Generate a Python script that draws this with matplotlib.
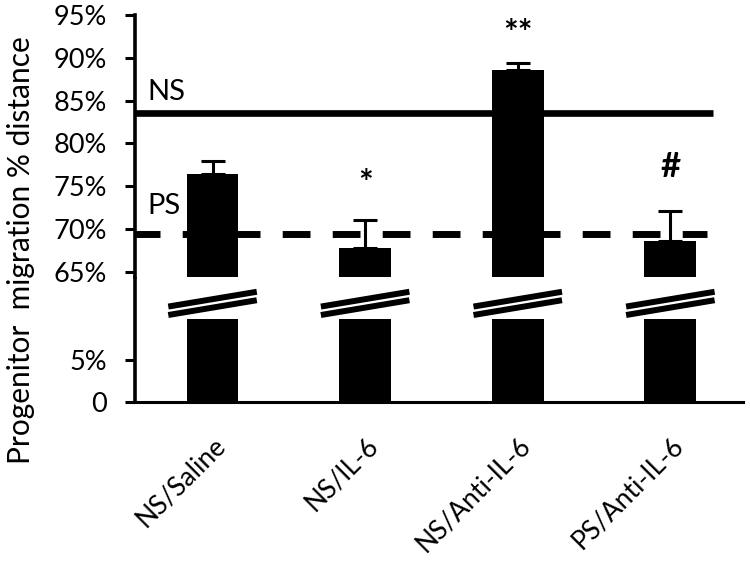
import matplotlib
matplotlib.use("Agg")
import matplotlib.pyplot as plt
import numpy as np

# ---- data ----
categories = ["NS/Saline", "NS/IL-6", "NS/Anti-IL-6", "PS/Anti-IL-6"]
means = [76.4, 67.8, 88.6, 68.6]
errors = [1.6, 3.2, 0.8, 3.5]
sig_labels = ["", "*", "**", "#"]
sig_y = [0, 75.3, 92.8, 77.2]
ns_level = 83.5
ps_level = 69.4
top_ticks = [65, 70, 75, 80, 85, 90, 95]
top_ticklabels = ["65%", "70%", "75%", "80%", "85%", "90%", "95%"]
bot_ticks = [0, 5]
bot_ticklabels = ["0", "5%"]

plt.rcParams['font.family'] = ['Lato', 'DejaVu Sans']

W, H = 750, 563
fig = plt.figure(figsize=(7.5, 5.63), dpi=100)

left = 135 / W
width = 608 / W
ax_bot = fig.add_axes([left, (H - 402) / H, width, 125 / H])
ax_top = fig.add_axes([left, (H - 277) / H, width, 262 / H])

x = np.arange(len(categories))
bw = 0.34
break_low = 9.8

# lower part
ax_bot.bar(x, np.minimum(means, break_low), width=bw, color="black", edgecolor="black", linewidth=0)
ax_bot.set_ylim(0, 14.8)
ax_bot.set_xlim(-0.508, 3.476)

# upper part
ax_top.bar(x, means, width=bw, color="black", edgecolor="black", linewidth=0, zorder=2)
ax_top.errorbar(x, means, yerr=[np.zeros(len(means)), errors], fmt="none",
                ecolor="black", elinewidth=2.2, capsize=8.3, capthick=2.2, zorder=3)
ax_top.set_ylim(64.4, 95)
ax_top.set_xlim(-0.508, 3.476)

# reference lines
ax_top.axhline(ns_level, xmin=0, xmax=0.951, color="black", lw=4.8, zorder=1, solid_capstyle="butt")
ax_top.axhline(ps_level, xmin=0, xmax=0.941, color="black", lw=5.0, zorder=1,
               linestyle=(0.4, (4.0, 3.2)), dash_capstyle="butt")
ax_top.text(-0.43, 86.0, "NS", ha="left", va="center", fontsize=21)
ax_top.text(-0.43, 72.7, "PS", ha="left", va="center", fontsize=21)

for xi, lab, yy in zip(x, sig_labels, sig_y):
    if lab:
        ax_top.text(xi, yy, lab, ha="center", va="center", fontsize=25, fontweight="bold")

# break marks
for xi in x:
    for off in (0.0, 1.0):
        yl = 11.3 - off
        ax_bot.plot([xi - 0.29, xi + 0.29], [yl, yl + 1.75], color="black", lw=4.3,
                    solid_capstyle="butt", clip_on=False)

# spines and ticks
for ax in (ax_top, ax_bot):
    ax.spines["top"].set_visible(False)
    ax.spines["right"].set_visible(False)
    ax.spines["left"].set_linewidth(2.6)
    ax.tick_params(axis="y", length=7, width=2.2, pad=13, labelsize=19.5)
ax_top.spines["bottom"].set_visible(False)
ax_bot.spines["bottom"].set_linewidth(2.2)
ax_top.tick_params(axis="x", bottom=False, labelbottom=False)

ax_top.set_yticks(top_ticks)
ax_top.set_yticklabels(top_ticklabels)
ax_bot.set_yticks(bot_ticks)
ax_bot.set_yticklabels(bot_ticklabels)

ax_bot.set_xticks(x)
ax_bot.set_xticklabels(categories, rotation=45, ha="right", rotation_mode="anchor", fontsize=19)
ax_bot.tick_params(axis="x", length=0, pad=22)

fig.text(21 / W, (H - 250) / H, "Progenitor  migration % distance", rotation=90,
         ha="center", va="center", fontsize=21.5)

fig.savefig("out.png", dpi=100)
